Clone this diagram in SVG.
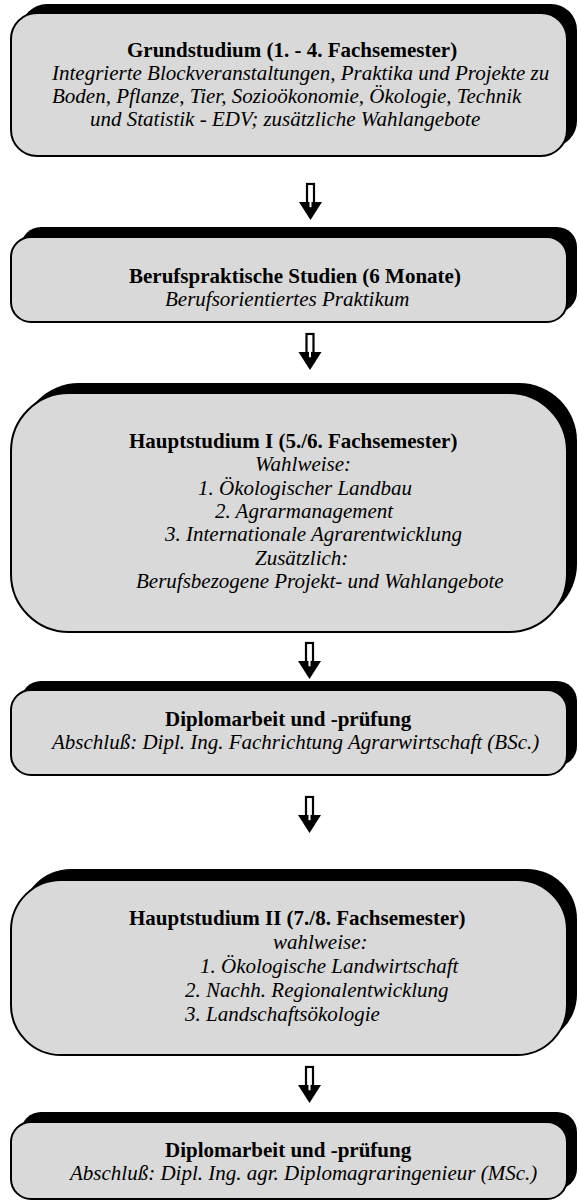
<svg xmlns="http://www.w3.org/2000/svg" xmlns:xlink="http://www.w3.org/1999/xlink" width="579" height="1202" viewBox="0 0 579 1202">
<style>
.shadow{fill:#000}
.box{fill:#d9d9d9;stroke:#000;stroke-width:2}
.t{font-family:"Liberation Serif","Times New Roman",serif;font-size:21px;fill:#000}
.b{font-weight:bold}
.i{font-style:italic}
</style>
<defs>
<g id="arrow">
<rect x="-3.5" y="0" width="7" height="19" fill="#fff" stroke="#000" stroke-width="2.2"/>
<polygon points="-11.5,18 11.5,18 0,36" fill="#000"/>
<rect x="-1" y="1.2" width="2" height="22" fill="#fff"/>
</g>
</defs>
<rect width="579" height="1202" fill="#fff"/>

<g id="connectors">
<use xlink:href="#arrow" x="310.5" y="184"/>
<use xlink:href="#arrow" x="310" y="334"/>
<use xlink:href="#arrow" x="309.5" y="643"/>
<use xlink:href="#arrow" x="309.5" y="797"/>
<use xlink:href="#arrow" x="309.5" y="1067"/>
</g>

<g id="grundstudium">
<rect class="shadow" x="21" y="4" width="556" height="143" rx="26"/>
<rect class="box" x="11" y="13" width="556" height="143" rx="26"/>
<text class="t b" x="127" y="57">Grundstudium (1. - 4. Fachsemester)</text>
<text class="t i" x="52" y="80">Integrierte Blockveranstaltungen, Praktika und Projekte zu</text>
<text class="t i" x="52" y="103">Boden, Pflanze, Tier, Sozioökonomie, Ökologie, Technik</text>
<text class="t i" x="90" y="126">und Statistik - EDV; zusätzliche Wahlangebote</text>
</g>

<g id="berufspraxis">
<rect class="shadow" x="21" y="227" width="556" height="85" rx="20"/>
<rect class="box" x="11" y="237" width="556" height="85" rx="20"/>
<text class="t b" x="129" y="283">Berufspraktische Studien (6 Monate)</text>
<text class="t i" x="165" y="306">Berufsorientiertes Praktikum</text>
</g>

<g id="hauptstudium1">
<rect class="shadow" x="21" y="383" width="556" height="239" rx="58"/>
<rect class="box" x="11" y="393" width="556" height="239" rx="58"/>
<text class="t b" x="129" y="448">Hauptstudium I (5./6. Fachsemester)</text>
<text class="t i" x="255" y="471">Wahlweise:</text>
<text class="t i" x="198" y="495">1. Ökologischer Landbau</text>
<text class="t i" x="215" y="518">2. Agrarmanagement</text>
<text class="t i" x="165" y="541">3. Internationale Agrarentwicklung</text>
<text class="t i" x="255" y="565">Zusätzlich:</text>
<text class="t i" x="136" y="588">Berufsbezogene Projekt- und Wahlangebote</text>
</g>

<g id="diplom1">
<rect class="shadow" x="21" y="681" width="556" height="85" rx="20"/>
<rect class="box" x="11" y="690" width="556" height="85" rx="20"/>
<text class="t b" x="165" y="726">Diplomarbeit und -prüfung</text>
<text class="t i" x="52" y="749">Abschluß: Dipl. Ing. Fachrichtung Agrarwirtschaft (BSc.)</text>
</g>

<g id="hauptstudium2">
<rect class="shadow" x="21" y="869" width="556" height="175" rx="50"/>
<rect class="box" x="11" y="880" width="556" height="175" rx="50"/>
<text class="t b" x="129" y="925">Hauptstudium II (7./8. Fachsemester)</text>
<text class="t i" x="273" y="949">wahlweise:</text>
<text class="t i" x="200" y="973">1. Ökologische Landwirtschaft</text>
<text class="t i" x="185" y="997">2. Nachh. Regionalentwicklung</text>
<text class="t i" x="185" y="1021">3. Landschaftsökologie</text>
</g>

<g id="diplom2">
<rect class="shadow" x="21" y="1112" width="556" height="77" rx="20"/>
<rect class="box" x="11" y="1122" width="556" height="77" rx="20"/>
<text class="t b" x="165" y="1157">Diplomarbeit und -prüfung</text>
<text class="t i" x="70" y="1180">Abschluß: Dipl. Ing. agr. Diplomagraringenieur (MSc.)</text>
</g>
</svg>
